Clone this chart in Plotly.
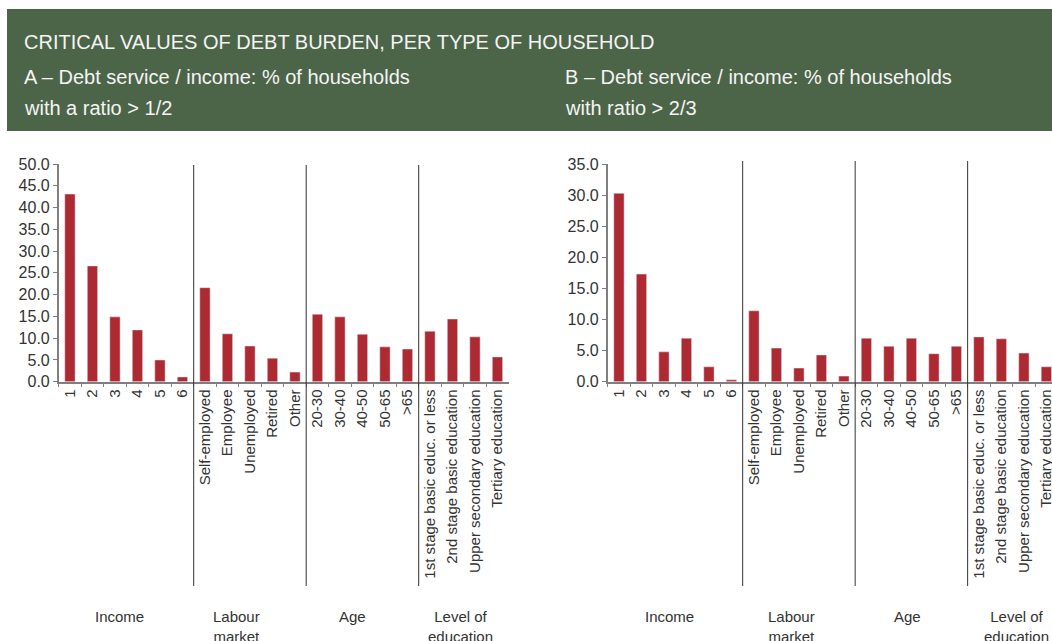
import plotly.graph_objects as go

# Household categories, grouped along the x axis
income = ["1", "2", "3", "4", "5", "6"]
labour = ["Self-employed", "Employee", "Unemployed", "Retired", "Other"]
age = ["20-30", "30-40", "40-50", "50-65", ">65"]
education = ["1st stage basic educ. or less", "2nd stage basic education",
             "Upper secondary education", "Tertiary education"]
categories = income + labour + age + education

group_names = ["Income", "Labour<br>market", "Age", "Level of<br>education"]

# % of households with debt service / income above the threshold
share_over_half = [43.1, 26.6, 14.9, 11.9, 5.0, 1.1,
                   21.6, 11.0, 8.2, 5.4, 2.2,
                   15.5, 14.9, 10.9, 8.0, 7.5,
                   11.6, 14.4, 10.3, 5.7]
share_over_two_thirds = [30.3, 17.3, 4.8, 7.0, 2.4, 0.3,
                         11.4, 5.4, 2.2, 4.3, 0.9,
                         7.0, 5.7, 7.0, 4.5, 5.7,
                         7.2, 6.9, 4.6, 2.4]

W, H = 1052, 641
BAR = "#AE2A32"
HEADER = "#4C6548"
AXIS = "#7f7f7f"
TEXT = "#333333"
FONT = "Liberation Sans, Arial, sans-serif"


def px_x(p):
    return p / W


def px_y(p):
    return 1 - p / H


fig = go.Figure()
fig.add_trace(go.Bar(x=categories, y=share_over_half, marker_color=BAR,
                     xaxis="x", yaxis="y", showlegend=False))
fig.add_trace(go.Bar(x=categories, y=share_over_two_thirds, marker_color=BAR,
                     xaxis="x2", yaxis="y2", showlegend=False))

y_dom = [px_y(381.7), px_y(164)]
xaxis_common = dict(type="category", categoryorder="array", categoryarray=categories,
                    showline=True, linecolor=AXIS, linewidth=1.5,
                    ticks="outside", tickson="boundaries", ticklen=4, tickcolor=AXIS,
                    tickangle=-90, tickfont=dict(size=15, color=TEXT, family=FONT),
                    showgrid=False, zeroline=False, automargin=False, fixedrange=True)
yaxis_common = dict(showline=True, linecolor=AXIS, linewidth=1.5, ticks="outside",
                    ticklen=4, tickcolor=AXIS, dtick=5, tickformat=".1f",
                    tickfont=dict(size=16, color=TEXT, family=FONT),
                    showgrid=False, zeroline=False, automargin=False, fixedrange=True,
                    domain=y_dom)

fig.update_layout(
    width=W, height=H,
    margin=dict(l=0, r=0, t=0, b=0),
    paper_bgcolor="white", plot_bgcolor="white",
    bargap=0.54,
    font=dict(family=FONT, color=TEXT),
    xaxis=dict(xaxis_common, domain=[px_x(58.7), px_x(508.7)], anchor="y",
               range=[-0.5, 19.5]),
    yaxis=dict(yaxis_common, anchor="x", range=[0, 50]),
    xaxis2=dict(xaxis_common, domain=[px_x(607.7), 1.0], anchor="y2",
                range=[-0.5, 19.25]),
    yaxis2=dict(yaxis_common, anchor="x2", range=[0, 35]),
)

# Header band with titles
fig.add_shape(type="rect", xref="paper", yref="paper",
              x0=px_x(7), x1=1.0, y0=px_y(131), y1=px_y(9),
              fillcolor=HEADER, line_width=0, layer="below")
header_lines = [
    (22, 42, "CRITICAL VALUES OF DEBT BURDEN, PER TYPE OF HOUSEHOLD"),
    (22, 77, "A – Debt service / income: % of households"),
    (22, 108, "with a ratio > 1/2"),
    (563, 77, "B – Debt service / income: % of households"),
    (563, 108, "with ratio > 2/3"),
]
for x, y, t in header_lines:
    fig.add_annotation(text=t, xref="paper", yref="paper", x=px_x(x), y=px_y(y),
                       xanchor="left", yanchor="middle", showarrow=False,
                       font=dict(size=20, color="#f4f4f4", family=FONT))

# Vertical separators between category groups
boundaries = [len(income), len(income) + len(labour),
              len(income) + len(labour) + len(age)]
for xr, top in (("x", 165), ("x2", 161)):
    for b in boundaries:
        fig.add_shape(type="line", xref=xr, yref="paper",
                      x0=b - 0.5, x1=b - 0.5, y0=px_y(586), y1=px_y(top),
                      line=dict(color="#333333", width=1))

# Group names beneath each panel
group_x = {"left": [119, 236.7, 352, 460], "right": [669.3, 791, 907, 1016.7]}
for side in ("left", "right"):
    for gx, name in zip(group_x[side], group_names):
        fig.add_annotation(text=name, xref="paper", yref="paper",
                           x=px_x(gx), y=px_y(606), xanchor="center", yanchor="top",
                           showarrow=False, align="center",
                           font=dict(size=15, color=TEXT, family=FONT))

fig.write_html("out.html")
